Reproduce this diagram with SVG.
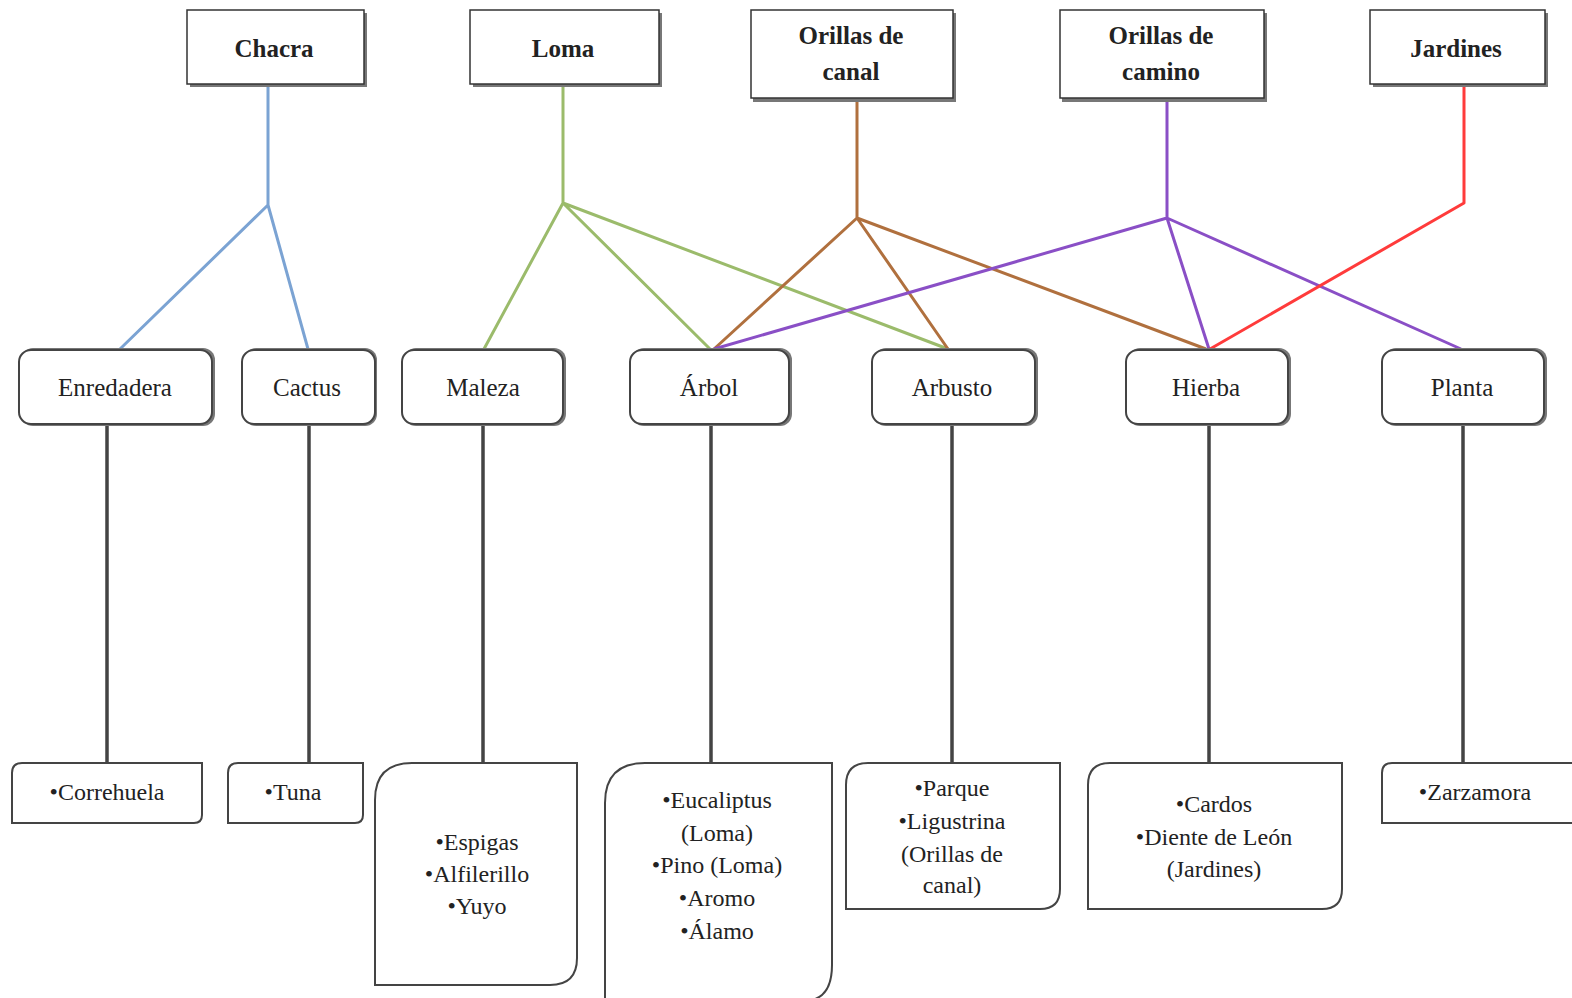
<svg xmlns="http://www.w3.org/2000/svg" width="1572" height="998" viewBox="0 0 1572 998">
<style>
.bg{fill:#fff}
.top{fill:#fff;stroke:#333;stroke-width:1.5}
.sh{fill:#777}
.mid{fill:#fff;stroke:#444;stroke-width:2}
.bot{fill:#fff;stroke:#444;stroke-width:2}
.tt{font-family:"Liberation Serif",serif;font-size:25px;font-weight:bold;fill:#222;text-anchor:middle}
.mt{font-family:"Liberation Serif",serif;font-size:25px;fill:#222;text-anchor:middle}
.bt{font-family:"Liberation Serif",serif;font-size:24px;fill:#222;text-anchor:middle}
.c{fill:none;stroke-width:3;stroke-linejoin:round}
.blue{stroke:#7ba3d3}
.green{stroke:#9bbb6b}
.brown{stroke:#b0703e}
.purple{stroke:#8a4fc6}
.red{stroke:#ff3b3b}
.grey{stroke:#444;stroke-width:3.5}
</style>
<rect class="bg" width="1572" height="998"/>
<g id="connectors">
<path class="c grey" d="M107 425V763M309 425V763M483 425V763M711 425V763M952 425V763M1209 425V763M1463 425V763"/>
<path class="c blue" d="M268 85V205L120 349M268 205L308 349"/>
<path class="c green" d="M563 85V203L484 349M563 203L710 349M563 203L948 349"/>
<path class="c brown" d="M857 100V218L714 349M857 218L948 349M857 218L1206 349"/>
<path class="c purple" d="M1167 100V218L714 349M1167 218L1209 349M1167 218L1461 349"/>
<path class="c red" d="M1464 85V203L1210 349"/>
</g>
<g id="chacra"><rect class="sh" x="190" y="13" width="177" height="74"/><rect class="top" x="187" y="10" width="177" height="74"/><text class="tt" x="274" y="57">Chacra</text></g>
<g id="loma"><rect class="sh" x="473" y="13" width="189" height="74"/><rect class="top" x="470" y="10" width="189" height="74"/><text class="tt" x="563" y="57">Loma</text></g>
<g id="orillas-canal"><rect class="sh" x="753" y="13" width="203" height="89"/><rect class="top" x="751" y="10" width="202" height="88"/><text class="tt" x="851" y="44">Orillas de</text><text class="tt" x="851" y="80">canal</text></g>
<g id="orillas-camino"><rect class="sh" x="1062" y="13" width="205" height="89"/><rect class="top" x="1060" y="10" width="204" height="88"/><text class="tt" x="1161" y="44">Orillas de</text><text class="tt" x="1161" y="80">camino</text></g>
<g id="jardines"><rect class="sh" x="1373" y="13" width="175" height="74"/><rect class="top" x="1370" y="10" width="175" height="74"/><text class="tt" x="1456" y="57">Jardines</text></g>

<g id="enredadera"><rect class="sh" x="21" y="348" width="194" height="78" rx="12"/><rect class="mid" x="19" y="350" width="193" height="74" rx="12"/><text class="mt" x="115" y="396">Enredadera</text></g>
<g id="cactus"><rect class="sh" x="244" y="348" width="133" height="78" rx="12"/><rect class="mid" x="242" y="350" width="133" height="74" rx="12"/><text class="mt" x="307" y="396">Cactus</text></g>
<g id="maleza"><rect class="sh" x="404" y="348" width="162" height="78" rx="12"/><rect class="mid" x="402" y="350" width="161" height="74" rx="12"/><text class="mt" x="483" y="396">Maleza</text></g>
<g id="arbol"><rect class="sh" x="632" y="348" width="160" height="78" rx="12"/><rect class="mid" x="630" y="350" width="159" height="74" rx="12"/><text class="mt" x="709" y="396">Árbol</text></g>
<g id="arbusto"><rect class="sh" x="874" y="348" width="164" height="78" rx="12"/><rect class="mid" x="872" y="350" width="163" height="74" rx="12"/><text class="mt" x="952" y="396">Arbusto</text></g>
<g id="hierba"><rect class="sh" x="1128" y="348" width="163" height="78" rx="12"/><rect class="mid" x="1126" y="350" width="162" height="74" rx="12"/><text class="mt" x="1206" y="396">Hierba</text></g>
<g id="planta"><rect class="sh" x="1384" y="348" width="163" height="78" rx="12"/><rect class="mid" x="1382" y="350" width="162" height="74" rx="12"/><text class="mt" x="1462" y="396">Planta</text></g>

<g id="correhuela"><path class="bot" d="M12 823V773Q12 763 22 763H202V815Q202 823 194 823Z"/><text class="bt" x="107" y="800">•Correhuela</text></g>
<g id="tuna"><path class="bot" d="M228 823V773Q228 763 238 763H363V815Q363 823 355 823Z"/><text class="bt" x="293" y="800">•Tuna</text></g>
<g id="maleza-list"><path class="bot" d="M375 985V800Q375 763 412 763H577V958Q577 985 550 985Z"/><text class="bt" x="477" y="850">•Espigas</text><text class="bt" x="477" y="882">•Alfilerillo</text><text class="bt" x="477" y="914">•Yuyo</text></g>
<g id="arbol-list"><path class="bot" d="M605 1000V803Q605 763 645 763H832V965Q832 995 812 1000"/><text class="bt" x="717" y="808">•Eucaliptus</text><text class="bt" x="717" y="841">(Loma)</text><text class="bt" x="717" y="873">•Pino (Loma)</text><text class="bt" x="717" y="906">•Aromo</text><text class="bt" x="717" y="939">•Álamo</text></g>
<g id="arbusto-list"><path class="bot" d="M846 909V785Q846 763 868 763H1060V889Q1060 909 1040 909Z"/><text class="bt" x="952" y="796">•Parque</text><text class="bt" x="952" y="829">•Ligustrina</text><text class="bt" x="952" y="862">(Orillas de</text><text class="bt" x="952" y="893">canal)</text></g>
<g id="hierba-list"><path class="bot" d="M1088 909V785Q1088 763 1110 763H1342V889Q1342 909 1322 909Z"/><text class="bt" x="1214" y="812">•Cardos</text><text class="bt" x="1214" y="845">•Diente de León</text><text class="bt" x="1214" y="877">(Jardines)</text></g>
<g id="zarzamora"><path class="bot" d="M1382 823V773Q1382 763 1392 763H1574V823Z"/><text class="bt" x="1475" y="800">•Zarzamora</text></g>
</svg>
